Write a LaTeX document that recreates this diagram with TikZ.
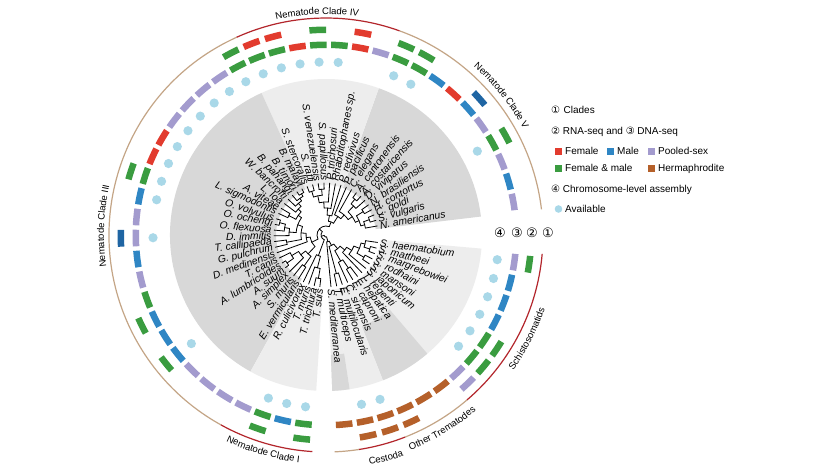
\documentclass[tikz,border=0pt]{standalone}
\usepackage{fontspec}
\setmainfont{Liberation Sans}
\newfontfamily\symfnt{DejaVu Sans}
\usetikzlibrary{decorations.text}
\definecolor{cRed}{HTML}{E23B2E}
\definecolor{cBlue}{HTML}{2F86C4}
\definecolor{cDBlue}{HTML}{1F65A3}
\definecolor{cPur}{HTML}{A39BCE}
\definecolor{cGrn}{HTML}{3A9C40}
\definecolor{cBrn}{HTML}{B5602A}
\definecolor{cDot}{HTML}{A9D8E8}
\definecolor{gDark}{HTML}{D8D8D8}
\definecolor{gLight}{HTML}{EDEDED}
\definecolor{aTan}{HTML}{C4A586}
\definecolor{aRed}{HTML}{B3262C}
\newcommand\cfont{\fontsize{9.5}{11}\selectfont}
\tikzset{
  tree/.style={line width=0.8pt,black,line cap=round},
  splab/.style={font=\fontsize{10.3}{12}\selectfont\itshape,inner sep=0.5pt},
  lg/.style={font=\fontsize{10}{12}\selectfont,inner sep=0pt,anchor=base west},
  numl/.style={font={\fontsize{13}{15}\selectfont\symfnt},inner sep=0pt},
  carc/.style={line width=1.2pt},
}
% radial branch: angle, r1, r2
\newcommand\rb[3]{\draw[tree] (#1:#2) -- (#1:#3);}
% arc branch: radius, a1, a2
\newcommand\ab[3]{\draw[tree] (#2:#1) arc[start angle=#2,end angle=#3,radius=#1];}
% label: name, angle, text
\newcommand\lab[3]{%
  \pgfmathsetmacro\labA{#2}%
  \pgfmathtruncatemacro\labS{cos(\labA)>=0?1:0}%
  \ifnum\labS=1
    \node[splab,anchor=west,rotate=\labA] (#1) at (\labA:54) {#3};
  \else
    \pgfmathsetmacro\labB{\labA+180}%
    \node[splab,anchor=east,rotate=\labB] (#1) at (\labA:54) {#3};
  \fi}
% ring segment: colour, angle, r1, r2, half-width
\newcommand\sg[5]{\pgfmathsetmacro\segA{#2-#5}\pgfmathsetmacro\segB{#2+#5}%
  \fill[#1] (\segA:#3) arc[start angle=\segA,end angle=\segB,radius=#3] -- (\segB:#4) arc[start angle=\segB,end angle=\segA,radius=#4] -- cycle;}
\newcommand\rth[2]{\sg{#1}{#2}{187}{193.5}{2.5}}
\newcommand\rtw[2]{\sg{#1}{#2}{202}{208.5}{2.35}}
\newcommand\dav[1]{\fill[cDot] (#1:173) circle[radius=4.6];}
% sector: colour, a1, a2, rin
\newcommand\sector[4]{\fill[#1] (#2:#4) -- (#2:156) arc[start angle=#2,end angle=#3,radius=156] -- (#3:#4) arc[start angle=#3,end angle=#2,radius=#4] -- cycle;}
\begin{document}
\begin{tikzpicture}[x=1pt,y=1pt]
\useasboundingbox (0,0) rectangle (817,-467);
\fill[white] (0,0) rectangle (817,-467);
\begin{scope}[shift={(326,-235)}]
% sectors
\sector{gDark}{6.8}{70.2}{50}
\sector{gLight}{70.2}{114.4}{50}
\sector{gDark}{114.4}{241.05}{50}
\sector{gLight}{241.05}{266.4}{55}
\sector{gLight}{-49.5}{-5}{55}
\sector{gLight}{-68.6}{-49.5}{55}
\sector{gDark}{-68.6}{-49.5}{98}
\sector{gLight}{-81.3}{-68.6}{55}
\sector{gLight}{-87.7}{-81.3}{55}
\sector{gDark}{-87.7}{-81.3}{120}
% tree: flatworms
\ab{46}{-14.56}{-20.92} \rb{-14.56}{46}{52} \rb{-20.92}{46}{52}
\ab{40}{-8.2}{-17.74} \rb{-8.2}{40}{52} \rb{-17.74}{40}{46}
\ab{44}{-27.28}{-33.64} \rb{-27.28}{44}{52} \rb{-33.64}{44}{52}
\ab{36}{-12.97}{-30.46} \rb{-12.97}{36}{40} \rb{-30.46}{36}{44}
\ab{30}{-21.72}{-40} \rb{-21.72}{30}{36} \rb{-40}{30}{52}
\ab{24}{-30.86}{-46.36} \rb{-30.86}{24}{30} \rb{-46.36}{24}{52}
\ab{40}{-52.72}{-59.08} \rb{-52.72}{40}{52} \rb{-59.08}{40}{52}
\ab{30}{-55.9}{-65.44} \rb{-55.9}{30}{40} \rb{-65.44}{30}{52}
\ab{18}{-38.61}{-60.67} \rb{-38.61}{18}{24} \rb{-60.67}{18}{30}
\ab{40}{-71.8}{-78.16} \rb{-71.8}{40}{52} \rb{-78.16}{40}{52}
\ab{12}{-49.64}{-74.98} \rb{-49.64}{12}{18} \rb{-74.98}{12}{40}
\ab{7}{-62.31}{-84.52} \rb{-62.31}{7}{12} \rb{-84.52}{7}{52}
% tree: nematodes
\ab{46}{16.33}{22.66} \rb{16.33}{46}{52} \rb{22.66}{46}{52}
\ab{40}{10}{19.5} \rb{10}{40}{52} \rb{19.5}{40}{46}
\ab{44}{28.99}{35.32} \rb{28.99}{44}{52} \rb{35.32}{44}{52}
\ab{36}{14.75}{32.16} \rb{14.75}{36}{40} \rb{32.16}{36}{44}
\ab{46}{47.98}{54.31} \rb{47.98}{46}{52} \rb{54.31}{46}{52}
\ab{40}{41.65}{51.15} \rb{41.65}{40}{52} \rb{51.15}{40}{46}
\ab{32}{23.45}{46.4} \rb{23.45}{32}{36} \rb{46.4}{32}{40}
\ab{27}{34.93}{60.64} \rb{34.93}{27}{32} \rb{60.64}{27}{52}
\ab{22}{47.79}{66.97} \rb{47.79}{22}{27} \rb{66.97}{22}{52}
\ab{46}{92.29}{98.62} \rb{92.29}{46}{52} \rb{98.62}{46}{52}
\ab{46}{104.95}{111.28} \rb{104.95}{46}{52} \rb{111.28}{46}{52}
\ab{40}{95.46}{108.12} \rb{95.46}{40}{46} \rb{108.12}{40}{46}
\ab{33}{85.96}{101.79} \rb{85.96}{33}{52} \rb{101.79}{33}{40}
\ab{27}{79.63}{93.88} \rb{79.63}{27}{52} \rb{93.88}{27}{33}
\ab{20}{73.3}{86.76} \rb{73.3}{20}{52} \rb{86.76}{20}{27}
\ab{14}{57.38}{80.03} \rb{57.38}{14}{22} \rb{80.03}{14}{20}
\ab{48}{117.61}{123.94} \rb{117.61}{48}{52} \rb{123.94}{48}{52}
\ab{45}{120.78}{130.27} \rb{130.27}{45}{52} \rb{120.78}{45}{48}
\ab{42}{125.53}{136.6} \rb{136.6}{42}{52} \rb{125.53}{42}{45}
\ab{38}{131.07}{142.93} \rb{142.93}{38}{52} \rb{131.07}{38}{42}
\ab{42}{149.26}{155.59} \rb{149.26}{42}{52} \rb{155.59}{42}{52}
\ab{34}{137}{152.43} \rb{137}{34}{38} \rb{152.43}{34}{42}
\ab{48}{161.92}{168.25} \rb{161.92}{48}{52} \rb{168.25}{48}{52}
\ab{42}{165.09}{174.58} \rb{174.58}{42}{52} \rb{165.09}{42}{48}
\ab{37}{169.84}{180.91} \rb{169.84}{37}{42} \rb{180.91}{37}{52}
\ab{30}{144.72}{175.38} \rb{144.72}{30}{34} \rb{175.38}{30}{37}
\ab{40}{187.24}{193.57} \rb{187.24}{40}{52} \rb{193.57}{40}{52}
\ab{25}{160.05}{190.41} \rb{160.05}{25}{30} \rb{190.41}{25}{40}
\ab{20}{175.23}{199.9} \rb{175.23}{20}{25} \rb{199.9}{20}{52}
\ab{48}{212.56}{218.89} \rb{212.56}{48}{52} \rb{218.89}{48}{52}
\ab{40}{206.23}{215.73} \rb{206.23}{40}{52} \rb{215.73}{40}{48}
\ab{32}{210.98}{225.22} \rb{210.98}{32}{40} \rb{225.22}{32}{52}
\ab{38}{231.55}{237.88} \rb{231.55}{38}{52} \rb{237.88}{38}{52}
\ab{26}{218.1}{234.72} \rb{218.1}{26}{32} \rb{234.72}{26}{38}
\ab{16}{187.57}{226.41} \rb{187.57}{16}{20} \rb{226.41}{16}{26}
\ab{9}{68.71}{206.99} \rb{68.71}{9}{14} \rb{206.99}{9}{16}
\ab{44}{256.87}{263.2} \rb{256.87}{44}{52} \rb{263.2}{44}{52}
\ab{34}{250.54}{260.04} \rb{250.54}{34}{52} \rb{260.04}{34}{44}
\ab{22}{244.21}{255.29} \rb{244.21}{22}{52} \rb{255.29}{22}{34}
\ab{5}{137.85}{249.75} \rb{137.85}{5}{9} \rb{249.75}{5}{22}
\ab{2}{193.8}{286.58} \rb{193.8}{2}{5} \rb{286.58}{2}{7}
% labels
\lab{l0}{10}{N. americanus}
\lab{l1}{16.33}{S. vulgaris}
\lab{l2}{22.66}{C. goldi}
\lab{l3}{28.99}{H. contortus}
\lab{l4}{35.32}{N. brasiliensis}
\lab{l5}{41.65}{D. viviparus}
\lab{l6}{47.98}{A. costaricensis}
\lab{l7}{54.31}{A. cantonensis}
\lab{l8}{60.64}{C. elegans}
\lab{l9}{66.97}{P. pacificus}
\lab{l10}{73.3}{P. redivivus}
\lab{l11}{79.63}{Rhabditophanes sp.}
\lab{l12}{85.96}{P. trichosuri}
\lab{l13}{92.29}{S. papillosus}
\lab{l14}{98.62}{S. venezuelensis}
\lab{l15}{104.95}{S. ratti}
\lab{l16}{111.28}{S. stercoralis}
\lab{l17}{117.61}{B. malayi}
\lab{l18}{123.94}{B. timori}
\lab{l19}{130.27}{B. pahangi}
\lab{l20}{136.6}{W. bancrofti}
\lab{l21}{142.93}{L. loa}
\lab{l22}{149.26}{A. viteae}
\lab{l23}{155.59}{L. sigmodontis}
\lab{l24}{161.92}{O. volvulus}
\lab{l25}{168.25}{O. ochengi}
\lab{l26}{174.58}{O. flexuosa}
\lab{l27}{180.91}{D. immitis}
\lab{l28}{187.24}{T. callipaeda}
\lab{l29}{193.57}{G. pulchrum}
\lab{l30}{199.9}{D. medinensis}
\lab{l31}{206.23}{T. canis}
\lab{l32}{212.56}{A. lumbricoides}
\lab{l33}{218.89}{A. suum}
\lab{l34}{225.22}{A. simplex}
\lab{l35}{231.55}{S. muris}
\lab{l36}{237.88}{E. vermicularis}
\lab{l37}{244.21}{R. culicivorax}
\lab{l38}{250.54}{T. muris}
\lab{l39}{256.87}{T. trichiura}
\lab{l40}{263.2}{T. suis}
\lab{f0}{-8.2}{S. haematobium}
\lab{f1}{-14.56}{S. mattheei}
\lab{f2}{-20.92}{S. margrebowiei}
\lab{f3}{-27.28}{S. rodhaini}
\lab{f4}{-33.64}{S. mansoni}
\lab{f5}{-40}{S. japonicum}
\lab{f6}{-46.36}{T. regenti}
\lab{f7}{-52.72}{F. hepatica}
\lab{f8}{-59.08}{E. caproni}
\lab{f9}{-65.44}{C. sinensis}
\lab{f10}{-71.8}{E. multilocularis}
\lab{f11}{-78.16}{T. multiceps}
\lab{f12}{-84.52}{S. mediterranea}
% ring 3 (DNA-seq)
\rth{cPur}{10} \rth{cBlue}{16.33} \rth{cPur}{22.66} \rth{cGrn}{28.99}
\rth{cPur}{35.32} \rth{cBlue}{41.65} \rth{cRed}{47.98} \rth{cBlue}{54.31}
\rth{cGrn}{60.64} \rth{cGrn}{66.97} \rth{cPur}{73.3} \rth{cRed}{79.63}
\rth{cGrn}{85.96} \rth{cGrn}{92.29} \rth{cRed}{98.62} \rth{cGrn}{104.95}
\rth{cGrn}{111.28} \rth{cGrn}{117.61} \rth{cPur}{123.94} \rth{cPur}{130.27}
\rth{cPur}{136.6} \rth{cPur}{142.93} \rth{cRed}{149.26} \rth{cRed}{155.59}
\rth{cGrn}{161.92} \rth{cBlue}{168.25} \rth{cPur}{174.58} \rth{cPur}{180.91}
\rth{cBlue}{187.24} \rth{cPur}{193.57} \rth{cGrn}{199.9} \rth{cBlue}{206.23}
\rth{cBlue}{212.56} \rth{cBlue}{218.89} \rth{cPur}{225.22} \rth{cPur}{231.55}
\rth{cPur}{237.88} \rth{cPur}{244.21} \rth{cGrn}{250.54} \rth{cBlue}{256.87}
\rth{cGrn}{263.2}
\rth{cPur}{-8.2} \rth{cBlue}{-14.56} \rth{cBlue}{-20.92} \rth{cBlue}{-27.28}
\rth{cGrn}{-33.64} \rth{cGrn}{-40} \rth{cPur}{-46.36} \rth{cBrn}{-52.72}
\rth{cBrn}{-59.08} \rth{cBrn}{-65.44} \rth{cBrn}{-71.8} \rth{cBrn}{-78.16}
\rth{cBrn}{-84.52}
% ring 2 (RNA-seq)
\rtw{cGrn}{28.99} \rtw{cDBlue}{41.65} \rtw{cGrn}{60.64} \rtw{cGrn}{66.97}
\rtw{cRed}{79.63} \rtw{cGrn}{92.29} \rtw{cRed}{104.95} \rtw{cRed}{111.28}
\rtw{cGrn}{117.61} \rtw{cGrn}{161.92} \rtw{cDBlue}{180.91} \rtw{cGrn}{206.23}
\rtw{cGrn}{218.89} \rtw{cGrn}{250.54} \rtw{cGrn}{263.2}
\rtw{cGrn}{-8.2} \rtw{cGrn}{-33.64} \rtw{cGrn}{-40} \rtw{cPur}{-46.36}
\rtw{cBrn}{-65.44} \rtw{cBrn}{-71.8} \rtw{cBrn}{-78.16}
% ring 4 (assembly)
\dav{28.99} \dav{60.64} \dav{66.97} \dav{85.96} \dav{92.29} \dav{98.62}
\dav{104.95} \dav{111.28} \dav{117.61} \dav{123.94} \dav{130.27} \dav{136.6}
\dav{142.93} \dav{149.26} \dav{155.59} \dav{161.92} \dav{168.25} \dav{180.91}
\dav{218.89} \dav{250.54} \dav{256.87} \dav{263.2}
\dav{-8.2} \dav{-14.56} \dav{-20.92} \dav{-27.28} \dav{-33.64} \dav{-40}
\dav{-71.8} \dav{-78.16}
% ring 1 (clades)
\draw[carc,aTan] (6.8:217) arc[start angle=6.8,end angle=70.2,radius=217];
\draw[carc,aRed] (70.2:217) arc[start angle=70.2,end angle=114.4,radius=217];
\draw[carc,aTan] (114.4:217) arc[start angle=114.4,end angle=241.05,radius=217];
\draw[carc,aRed] (241.05:217) arc[start angle=241.05,end angle=266.4,radius=217];
\draw[carc,aRed] (-5:217) arc[start angle=-5,end angle=-49.5,radius=217];
\draw[carc,aTan] (-49.5:217) arc[start angle=-49.5,end angle=-68.6,radius=217];
\draw[carc,aRed] (-68.6:217) arc[start angle=-68.6,end angle=-81.3,radius=217];
\draw[carc,aTan] (-81.3:217) arc[start angle=-81.3,end angle=-87.7,radius=217];
% clade names
\path[decorate,decoration={text along path,text align=center,text={|\cfont|Nematode Clade IV}}] (114.4:221) arc[start angle=114.4,end angle=70.2,radius=221];
\path[decorate,decoration={text along path,text align=center,text={|\cfont|Nematode Clade V}}] (70.2:224) arc[start angle=70.2,end angle=6.8,radius=224];
\path[decorate,decoration={text along path,text align=center,text={|\cfont|Nematode Clade III}}] (241.05:222) arc[start angle=241.05,end angle=114.4,radius=222];
\path[decorate,decoration={text along path,text align=center,text={|\cfont|Nematode Clade I}}] (241.05:229) arc[start angle=241.05,end angle=266.4,radius=229];
\path[decorate,decoration={text along path,text align=center,text={|\cfont|Schistosomatids}}] (-49.5:231) arc[start angle=-49.5,end angle=-5,radius=231];
\path[decorate,decoration={text along path,text align=center,text={|\cfont|Other Trematodes}}] (-72:231) arc[start angle=-72,end angle=-46,radius=231];
\path[decorate,decoration={text along path,text align=center,text={|\cfont|Cestoda}}] (-81.3:234) arc[start angle=-81.3,end angle=-68.6,radius=234];
\end{scope}
% ring numbers
\node[numl] (n4) at (500,-232.5) {④};
\node[numl] (n3) at (517,-232.5) {③};
\node[numl] (n2) at (532,-232.5) {②};
\node[numl] (n1) at (548,-232.5) {①};
% legend
\node[lg] (lc) at (551,-113.6) {{\symfnt ①}\hspace{3.5pt}Clades};
\node[lg] (lr) at (551,-134.6) {{\symfnt ②} RNA-seq and {\symfnt ③} DNA-seq};
\fill[cRed] (555,-147.5) rectangle ++(7,-7);
\node[lg] (lf) at (565,-154.6) {Female};
\fill[cBlue] (607,-147.5) rectangle ++(7,-7);
\node[lg] (lm) at (617,-154.6) {Male};
\fill[cPur] (648,-147.5) rectangle ++(7,-7);
\node[lg] (lp) at (658,-154.6) {Pooled-sex};
\fill[cGrn] (555,-164.5) rectangle ++(7,-7);
\node[lg] (lfm) at (565,-171.6) {Female \& male};
\fill[cBrn] (648,-164.5) rectangle ++(7,-7);
\node[lg] (lh) at (658,-171.6) {Hermaphrodite};
\node[lg] (la) at (551,-192.6) {{\symfnt ④} Chromosome-level assembly};
\fill[cDot] (558.5,-209) circle[radius=3.8];
\node[lg] (lv) at (565,-212.6) {Available};
\end{tikzpicture}
\end{document}
